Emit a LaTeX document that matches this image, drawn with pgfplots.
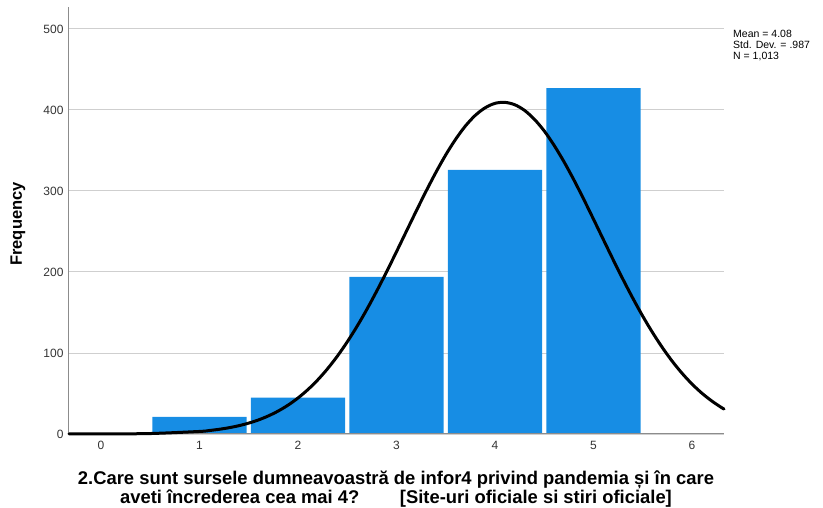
\documentclass[border=0pt]{standalone}
\usepackage{pgfplots}
\pgfplotsset{compat=1.18}
\usepackage{fontspec}
\setmainfont{Liberation Sans}

\definecolor{barblue}{HTML}{178DE4}
\definecolor{gridgray}{HTML}{CFCFCF}
\definecolor{axgray}{HTML}{8C8C8C}
\definecolor{ticktext}{HTML}{333333}

% Frequencies of the answers 1..5
\pgfplotstableread{
x  freq
1  21
2  45
3  194
4  326
5  427
}\freqtable

% Fitted normal curve (Mean 4.08, SD .987, N 1013, bin width 1)
\pgfplotstableread{
x      y
-0.325 0.02
0.0    0.08
0.5    0.57
1.0    3.14
1.1    4.29
1.2    5.80
1.3    7.75
1.4    10.26
1.5    13.44
1.6    17.42
1.7    22.37
1.8    28.41
1.9    35.71
2.0    44.44
2.1    54.74
2.2    66.72
2.3    80.52
2.4    96.17
2.5    113.7
2.6    133.0
2.7    154.0
2.8    176.6
2.9    200.3
3.0    225.0
3.1    250.1
3.2    275.1
3.3    299.6
3.4    322.9
3.5    344.5
3.6    363.7
3.7    380.2
3.8    393.3
3.9    402.6
4.0    408.1
4.1    409.3
4.2    406.4
4.3    399.4
4.4    388.4
4.5    374.0
4.6    356.3
4.7    336.1
4.8    313.8
4.9    289.9
5.0    265.1
5.1    240.0
5.2    215.0
5.3    190.7
5.4    167.4
5.5    145.4
5.6    125.1
5.7    106.5
5.8    89.7
5.9    74.8
6.0    61.7
6.1    50.4
6.2    40.8
6.3    32.6
6.325  30.8
}\normaltable

\begin{document}
\begin{tikzpicture}
\begin{axis}[
  at={(0pt,0pt)}, anchor=south west,
  scale only axis,
  width=655pt, height=427pt,
  xmin=-0.325, xmax=6.325,
  ymin=0, ymax=527,
  xtick={0,1,2,3,4,5,6},
  ytick={0,100,200,300,400,500},
  axis x line*=bottom,
  axis y line*=left,
  axis line style={axgray, line width=1pt},
  x axis line style={-}, y axis line style={-},
  major tick length=0pt,
  ymajorgrids,
  grid style={gridgray, line width=0.9pt},
  /pgf/number format/assume math mode=true,
  tick label style={font=\fontsize{12}{13}\selectfont, text=ticktext},
  xticklabel style={yshift=-4pt},
  yticklabel style={xshift=-2pt},
  clip=false,
]
\addplot[ybar, bar width=0.955, fill=barblue, draw=none, bar shift=0pt]
  table[x=x, y=freq] {\freqtable};
\draw[axgray, line width=1pt] (axis cs:-0.325,0) -- (axis cs:6.325,0);
\addplot[black, line width=3pt, smooth, no marks, line cap=round] table[x=x, y=y] {\normaltable};
\end{axis}

\node[rotate=90, font=\fontsize{16.5}{18}\selectfont\bfseries] at (-51pt,210pt) {Frequency};
\node[align=center, font=\fontsize{18.4}{16.5}\selectfont\bfseries] at (327pt,-55.5pt)
  {2.Care sunt sursele dumneavoastră de infor4 privind pandemia și în care\\
   aveti încrederea cea mai 4?\hspace{2.2em}[Site-uri oficiale si stiri oficiale]};
\node[anchor=north west, align=left, inner sep=0pt,
      font=\fontsize{10.5}{11}\selectfont] at (664pt,404pt)
  {Mean = 4.08\\Std. Dev. = .987\\N = 1,013};

\pgfresetboundingbox
\useasboundingbox (-69pt,-74pt) rectangle (754pt,434pt);
\end{tikzpicture}
\end{document}
